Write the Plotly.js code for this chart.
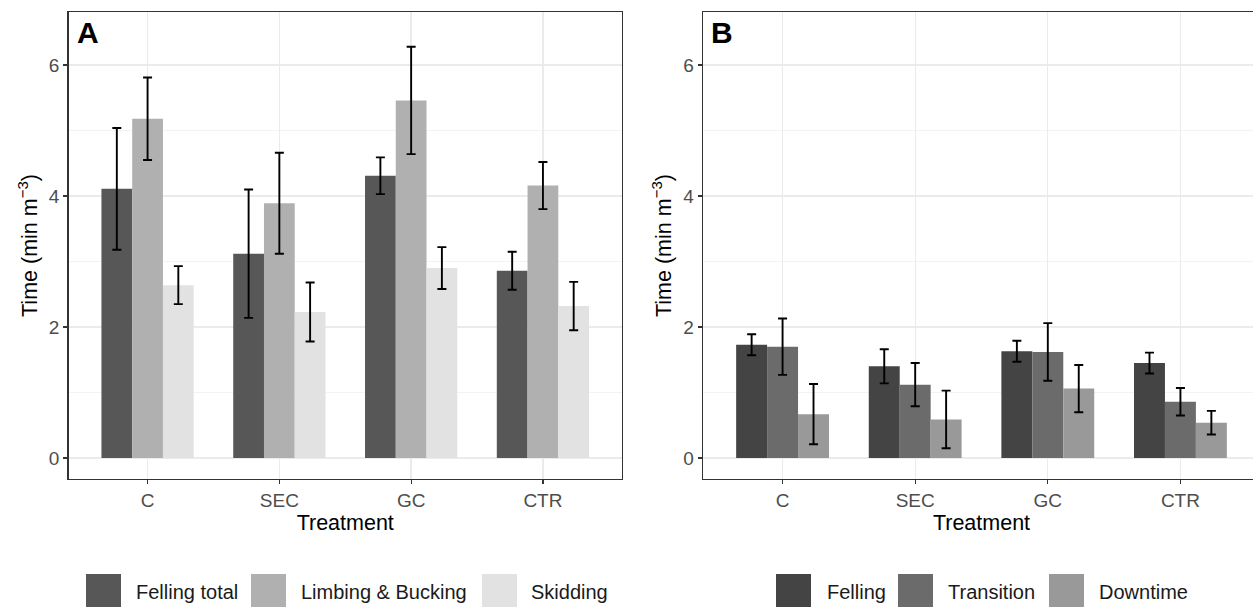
<!DOCTYPE html>
<html>
<head>
<meta charset="utf-8">
<script src="https://cdn.plot.ly/plotly-3.0.1.min.js"></script>
<style>
html,body{margin:0;padding:0;overflow:hidden;background:#fff;}
#chart{width:1262px;height:607px;}
</style>
</head>
<body>
<div id="chart"></div>
<script>
// ---- data ----
const categories = ['C', 'SEC', 'GC', 'CTR'];

// Panel A
const seriesA = ['Felling total', 'Limbing & Bucking', 'Skidding'];
const fellingTotal = [4.11, 3.12, 4.31, 2.86];
const fellingTotalErr = [0.93, 0.98, 0.28, 0.29];
const limbingBucking = [5.18, 3.89, 5.46, 4.16];
const limbingBuckingErr = [0.63, 0.77, 0.82, 0.36];
const skidding = [2.64, 2.23, 2.90, 2.32];
const skiddingErr = [0.29, 0.45, 0.32, 0.37];

// Panel B
const seriesB = ['Felling', 'Transition', 'Downtime'];
const felling = [1.73, 1.40, 1.63, 1.45];
const fellingErr = [0.16, 0.26, 0.16, 0.16];
const transition = [1.70, 1.12, 1.62, 0.86];
const transitionErr = [0.43, 0.33, 0.44, 0.21];
const downtime = [0.67, 0.59, 1.06, 0.54];
const downtimeErr = [0.46, 0.44, 0.36, 0.18];

const colorsA = ['#575757', '#b0b0b0', '#e2e2e2'];
const colorsB = ['#444444', '#6b6b6b', '#999999'];

const W = 1262, H = 607;
const FONT = 'Liberation Sans, Arial, Helvetica, sans-serif';

function barTrace(name, y, err, color, xa, ya) {
  return {
    type: 'bar', name: name, x: categories, y: y,
    xaxis: xa, yaxis: ya,
    marker: {color: color, line: {width: 0}},
    error_y: {type: 'data', array: err, visible: true, color: '#000', thickness: 1.9, width: 4.5},
    showlegend: false, hoverinfo: 'x+y+name'
  };
}

const data = [
  barTrace(seriesA[0], fellingTotal, fellingTotalErr, colorsA[0], 'x', 'y'),
  barTrace(seriesA[1], limbingBucking, limbingBuckingErr, colorsA[1], 'x', 'y'),
  barTrace(seriesA[2], skidding, skiddingErr, colorsA[2], 'x', 'y'),
  barTrace(seriesB[0], felling, fellingErr, colorsB[0], 'x2', 'y2'),
  barTrace(seriesB[1], transition, transitionErr, colorsB[1], 'x2', 'y2'),
  barTrace(seriesB[2], downtime, downtimeErr, colorsB[2], 'x2', 'y2')
];

const yTop = 12, yBot = 479;
const yDomain = [1 - yBot / H, 1 - yTop / H];

function xAxis(domain) {
  return {
    domain: domain, type: 'category', range: [-0.6, 3.6],
    showline: true, mirror: true, linecolor: '#333333', linewidth: 1.3,
    showgrid: true, gridcolor: '#ebebeb', gridwidth: 1.3,
    ticks: 'outside', ticklen: 4, tickwidth: 1.2, tickcolor: '#333333',
    tickfont: {family: FONT, size: 19, color: '#4d4d4d'},
    title: {text: 'Treatment', font: {family: FONT, size: 21.5, color: '#000'}, standoff: 2},
    zeroline: false, fixedrange: true
  };
}
function yAxis(anchor) {
  return {
    domain: yDomain, anchor: anchor, range: [-0.32, 6.81],
    tickvals: [0, 2, 4, 6], ticktext: ['0', '2', '4', '6'],
    showline: true, mirror: true, linecolor: '#333333', linewidth: 1.3,
    showgrid: true, gridcolor: '#ebebeb', gridwidth: 1.3,
    minor: {tickvals: [1, 3, 5], showgrid: true, gridcolor: '#f2f2f2', gridwidth: 0.9, ticks: ''},
    ticks: 'outside', ticklen: 4, tickwidth: 1.2, tickcolor: '#333333',
    tickfont: {family: FONT, size: 19, color: '#4d4d4d'},
    title: {text: 'Time (min m<sup>\u22123</sup>)', font: {family: FONT, size: 21.5, color: '#000'}, standoff: 5},
    zeroline: false, fixedrange: true
  };
}

const xa = xAxis([68.5 / W, 622 / W]);
xa.anchor = 'y';
const xb = xAxis([703 / W, 1260 / W]);
xb.anchor = 'y2';

// custom legends (big square keys like ggplot)
const shapes = [];
const annotations = [];
function addLegend(names, colors, swatchX, textX) {
  names.forEach(function (n, i) {
    shapes.push({type: 'rect', xref: 'paper', yref: 'paper',
      x0: swatchX[i] / W, x1: (swatchX[i] + 35) / W,
      y0: 1 - 609 / H, y1: 1 - 574 / H,
      fillcolor: colors[i], line: {width: 0}, layer: 'above'});
    annotations.push({xref: 'paper', yref: 'paper', x: textX[i] / W, y: 1 - 592 / H,
      xanchor: 'left', yanchor: 'middle', showarrow: false, text: n,
      font: {family: FONT, size: 20, color: '#1a1a1a'}});
  });
}
addLegend(seriesA, colorsA, [86, 251, 482], [134, 299, 529]);
addLegend(seriesB, colorsB, [776, 898, 1049], [825, 946, 1097]);

annotations.push({xref: 'paper', yref: 'paper', x: 75 / W, y: 1 - 33 / H, xanchor: 'left', yanchor: 'middle',
  showarrow: false, text: '<b>A</b>', font: {family: FONT, size: 30, color: '#000'}});
annotations.push({xref: 'paper', yref: 'paper', x: 709 / W, y: 1 - 33 / H, xanchor: 'left', yanchor: 'middle',
  showarrow: false, text: '<b>B</b>', font: {family: FONT, size: 30, color: '#000'}});

const layout = {
  width: W, height: H,
  margin: {l: 0, r: 0, t: 0, b: 0, pad: 0},
  paper_bgcolor: '#ffffff', plot_bgcolor: '#ffffff',
  barmode: 'group', bargap: 0.3, bargroupgap: 0,
  xaxis: xa, yaxis: yAxis('x'),
  xaxis2: xb, yaxis2: yAxis('x2'),
  shapes: shapes, annotations: annotations,
  showlegend: false,
  font: {family: FONT}
};

Plotly.newPlot('chart', data, layout, {displayModeBar: false, staticPlot: true});
</script>
</body>
</html>
